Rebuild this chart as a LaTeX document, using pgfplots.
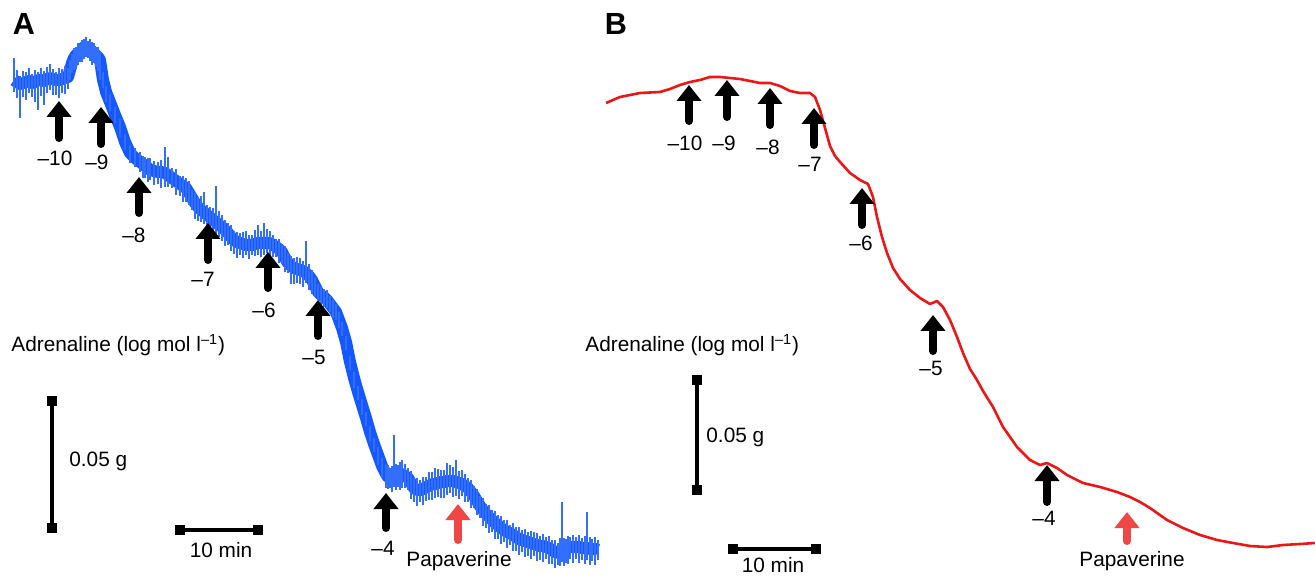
\documentclass[border=0pt]{standalone}
\usepackage{fontspec}
\setmainfont{Liberation Sans}
\usepackage{pgfplots}
\usepackage{pgfplotstable}
\pgfplotsset{compat=1.18}
\usetikzlibrary{arrows.meta}
\definecolor{traceblue}{RGB}{22,88,255}
\definecolor{spikeblue}{RGB}{50,110,255}
\definecolor{tracered}{RGB}{236,22,22}
\definecolor{papred}{RGB}{240,70,70}
\newcommand{\lab}{\fontsize{10.4}{12}\selectfont}
\newcommand{\pan}{\fontsize{15.3}{18}\selectfont\bfseries}

% Panel A trace: x, y (pixel frame), noise excursion down (ep) and up (em)
\pgfplotstableread{
x y ep em
14 80 12 22
17 82 16 12
20 84 34 8
23 83 14 12
26 82 18 10
29 81 12 13
32 83 14 9
35 82 20 12
38 80 30 8
41 80 16 12
44 81 24 10
47 79 14 12
50 78 12 14
53 79 16 10
56 80 15 8
59 80 18 12
62 79 14 10
65 78 16 12
68 77 12 9
70 70 10 10
72 63 10 9
74 58 12 10
76 55 14 8
78 53 12 10
80 52 10 8
82 50 12 10
84 47 12 8
86 47 10 10
88 48 10 7
90 49 12 10
92 51 14 9
94 53 10 10
96 55 12 8
98 57 14 10
100 60 20 8
103 80 8 8
106 92 10 6
110 102 9 8
115 115 8 8
120 127 10 8
125 142 8 8
130 153 10 8
135 158 9 10
140 162 10 10
143 164 14 8
145 166 12 9
148 168 14 10
150 170 10 12
154 171 14 10
158 172 12 10
161 172 16 12
165 173 14 26
168 175 12 18
172 178 10 10
176 181 14 12
180 184 12 8
183 186 16 10
186 188 14 10
189 193 12 12
192 198 12 8
195 203 16 10
198 207 14 10
201 210 12 14
204 212 12 20
207 215 16 10
210 217 12 10
213 220 14 12
216 222 16 36
219 225 12 14
222 227 14 12
225 230 16 10
228 233 12 10
231 237 14 12
234 240 14 9
237 242 16 10
240 243 12 10
243 244 14 12
246 245 10 14
249 245 14 10
252 245 10 10
255 244 12 14
258 243 12 18
261 243 14 12
264 243 12 20
267 243 10 14
270 243 14 12
273 245 12 10
276 247 10 8
279 249 14 10
282 252 12 8
285 258 14 12
288 263 10 10
291 266 18 10
294 268 16 10
297 269 14 12
300 270 14 12
303 271 16 10
306 273 10 32
309 276 14 12
312 280 14 10
315 286 10 8
318 292 8 8
321 295 10 8
324 297 10 8
327 300 8 10
330 304 8 8
333 308 10 8
336 312 8 8
339 320 8 8
342 328 8 6
346 342 8 6
350 362 8 6
354 378 10 6
358 392 8 6
362 405 10 6
366 418 8 6
370 432 10 6
374 444 8 6
378 455 10 8
382 466 12 8
386 474 14 10
388 477 12 12
390 478 10 10
392 478 14 12
394 477 10 42
396 476 14 12
398 475 12 10
400 474 16 12
402 474 14 14
405 476 12 12
408 478 12 10
411 483 16 12
414 488 14 10
417 490 16 12
420 490 12 10
423 489 16 12
426 487 14 10
429 486 14 14
432 484 16 12
435 484 14 16
438 483 14 14
441 482 16 12
444 482 16 12
447 481 14 18
450 481 12 16
453 481 16 14
456 482 14 22
459 483 16 12
462 484 12 14
465 486 16 12
468 488 14 10
471 492 16 12
474 496 12 10
477 501 14 12
480 506 12 10
483 510 16 12
486 514 14 10
489 517 16 12
492 520 12 10
495 523 16 12
498 525 14 10
501 528 16 12
504 530 12 10
507 532 16 12
510 533 12 8
513 535 16 12
516 537 14 10
519 539 16 12
522 540 12 10
525 541 16 12
528 542 14 10
531 543 16 12
534 544 12 12
537 545 16 12
540 546 14 10
543 546 16 12
546 547 12 10
549 548 16 12
552 550 14 10
555 552 16 12
558 553 12 10
560 552 14 14
562 550 12 48
564 550 16 12
566 549 14 10
568 548 16 12
570 547 12 10
573 547 16 12
576 547 12 10
579 547 16 12
582 548 12 10
585 548 16 12
587 548 12 36
590 549 16 12
592 549 12 10
595 549 16 12
598 550 10 10
}\dataA

% Panel B trace
\pgfplotstableread{
x y
606 103
620 97
640 93
660 92
670 89
680 85
690 82
700 80
710 77
720 77
730 78
740 79
750 81
760 83
770 83
780 86
790 91
800 93
810 93
815 97
820 110
825 128
830 146
835 156
840 162
850 173
860 180
868 184
873 197
877 217
882 237
887 253
893 268
900 279
910 290
920 298
930 304
937 301
943 307
950 320
957 337
963 353
970 369
977 380
983 391
993 407
1003 427
1017 447
1030 460
1040 465
1047 463
1057 468
1067 475
1083 483
1100 487
1117 492
1130 497
1140 502
1150 508
1167 520
1183 528
1200 535
1217 540
1233 543
1250 546
1267 547
1283 545
1300 544
1315 543
}\dataB

% black arrows: x, bottom y, length (negative = upward)
\pgfplotstableread{
x y v
59 138 -37
101 144 -37
139 213 -36
208 260 -37
268 288 -36
318 336 -36
386 528 -35
689 121 -36
727 117 -37
770 125 -37
814 145 -37
862 225 -37
933 351 -36
1047 502 -37
}\arrowsK

\pgfplotstableread{
x y v
458 540 -36
1127 541 -29
}\arrowsR

\begin{document}
\begin{tikzpicture}
\begin{axis}[
  scale only axis, width=657.5pt, height=288pt,
  xmin=0, xmax=1315, ymin=0, ymax=576, y dir=reverse,
  axis lines=none, clip=false,
]
% panel A trace
\addplot[draw=traceblue, line width=6pt, line join=round, line cap=butt, mark=none]
  table[x=x,y=y] \dataA;
\addplot[draw=traceblue, line width=0.6pt, mark=none,
  error bars/.cd, y dir=both, y explicit, error mark=none,
  error bar style={line width=0.8pt, draw=spikeblue}]
  table[x=x,y=y,y error plus=ep,y error minus=em] \dataA;
% panel B trace
\addplot[draw=tracered, line width=1.3pt, line join=round, mark=none]
  table[x=x,y=y] \dataB;
% arrows
\addplot[black, line width=4pt, line cap=round, mark=none, quiver={u=0,v=\thisrow{v}},
  -{Triangle[width=12pt,length=8pt]}] table[x=x,y=y] \arrowsK;
\addplot[papred, line width=4pt, line cap=round, mark=none, quiver={u=0,v=\thisrow{v}},
  -{Triangle[width=12pt,length=8pt]}] table[x=x,y=y] \arrowsR;
% scale bars
\addplot[black, line width=2pt, mark=square*, mark size=1.7pt] coordinates {(52,401) (52,528)};
\addplot[black, line width=2pt, mark=square*, mark size=1.7pt] coordinates {(180,530) (258,530)};
\addplot[black, line width=2pt, mark=square*, mark size=1.7pt] coordinates {(697,380) (697,490)};
\addplot[black, line width=2pt, mark=square*, mark size=1.7pt] coordinates {(733,549) (816,549)};
% panel letters
\node[font=\pan] at (24,24) {A};
\node[font=\pan] at (616,24) {B};
% text A
\node[font=\lab, anchor=west, inner sep=0pt] at (11,345) {Adrenaline (log mol l\textsuperscript{–1})};
\node[font=\lab, anchor=west, inner sep=0pt] at (69,461) {0.05 g};
\node[font=\lab] at (221,550) {10 min};
\node[font=\lab] at (55,158) {–10};
\node[font=\lab] at (97,162) {–9};
\node[font=\lab] at (134,235) {–8};
\node[font=\lab] at (203,279) {–7};
\node[font=\lab] at (264,310) {–6};
\node[font=\lab] at (314,357) {–5};
\node[font=\lab] at (383,548) {–4};
\node[font=\lab] at (459,561) {Papaverine};
% text B
\node[font=\lab, anchor=west, inner sep=0pt] at (585,345) {Adrenaline (log mol l\textsuperscript{–1})};
\node[font=\lab, anchor=west, inner sep=0pt] at (706,437) {0.05 g};
\node[font=\lab] at (773,565) {10 min};
\node[font=\lab] at (685,143) {–10};
\node[font=\lab] at (724,143) {–9};
\node[font=\lab] at (768,147) {–8};
\node[font=\lab] at (810,164) {–7};
\node[font=\lab] at (861,243) {–6};
\node[font=\lab] at (931,368) {–5};
\node[font=\lab] at (1044,518) {–4};
\node[font=\lab] at (1132,561) {Papaverine};
\end{axis}
\pgfresetboundingbox
\useasboundingbox (current axis.south west) rectangle (current axis.north east);
\end{tikzpicture}
\end{document}
